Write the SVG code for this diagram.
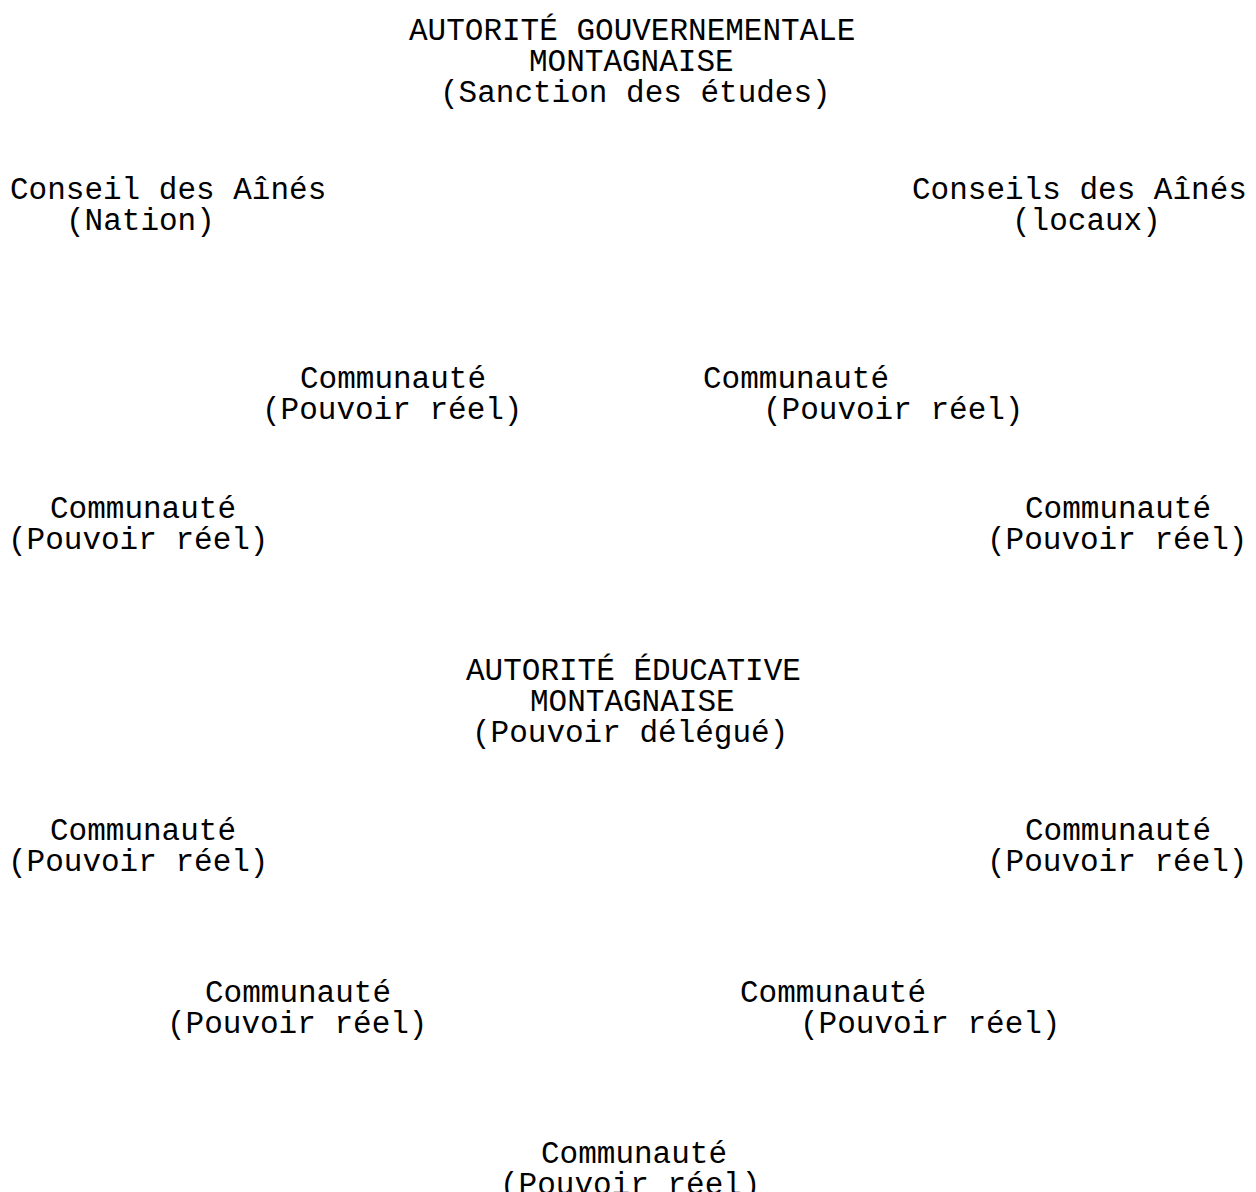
<svg xmlns="http://www.w3.org/2000/svg" width="1256" height="1192" viewBox="0 0 1256 1192">
<style>
text{font-family:"Liberation Mono","Courier New",monospace;font-size:31px;fill:#000;}
</style>
<rect width="1256" height="1192" fill="#fff"/>
<g id="autorite-gouvernementale">
<text x="409" y="40">AUTORITÉ GOUVERNEMENTALE</text>
<text x="529" y="71">MONTAGNAISE</text>
<text x="440" y="102">(Sanction des études)</text>
</g>
<g id="conseil-nation">
<text x="10" y="199">Conseil des Aînés</text>
<text x="66" y="230">(Nation)</text>
</g>
<g id="conseils-locaux">
<text x="912" y="199">Conseils des Aînés</text>
<text x="1012" y="230">(locaux)</text>
</g>
<g id="communaute-1">
<text x="300" y="388">Communauté</text>
<text x="262" y="419">(Pouvoir réel)</text>
</g>
<g id="communaute-2">
<text x="703" y="388">Communauté</text>
<text x="763" y="419">(Pouvoir réel)</text>
</g>
<g id="communaute-3">
<text x="50" y="518">Communauté</text>
<text x="8" y="549">(Pouvoir réel)</text>
</g>
<g id="communaute-4">
<text x="1025" y="518">Communauté</text>
<text x="987" y="549">(Pouvoir réel)</text>
</g>
<g id="autorite-educative">
<text x="466" y="680">AUTORITÉ ÉDUCATIVE</text>
<text x="530" y="711">MONTAGNAISE</text>
<text x="472" y="742">(Pouvoir délégué)</text>
</g>
<g id="communaute-5">
<text x="50" y="840">Communauté</text>
<text x="8" y="871">(Pouvoir réel)</text>
</g>
<g id="communaute-6">
<text x="1025" y="840">Communauté</text>
<text x="987" y="871">(Pouvoir réel)</text>
</g>
<g id="communaute-7">
<text x="205" y="1002">Communauté</text>
<text x="167" y="1033">(Pouvoir réel)</text>
</g>
<g id="communaute-8">
<text x="740" y="1002">Communauté</text>
<text x="800" y="1033">(Pouvoir réel)</text>
</g>
<g id="communaute-9">
<text x="541" y="1163">Communauté</text>
<text x="500" y="1194">(Pouvoir réel)</text>
</g>
</svg>
